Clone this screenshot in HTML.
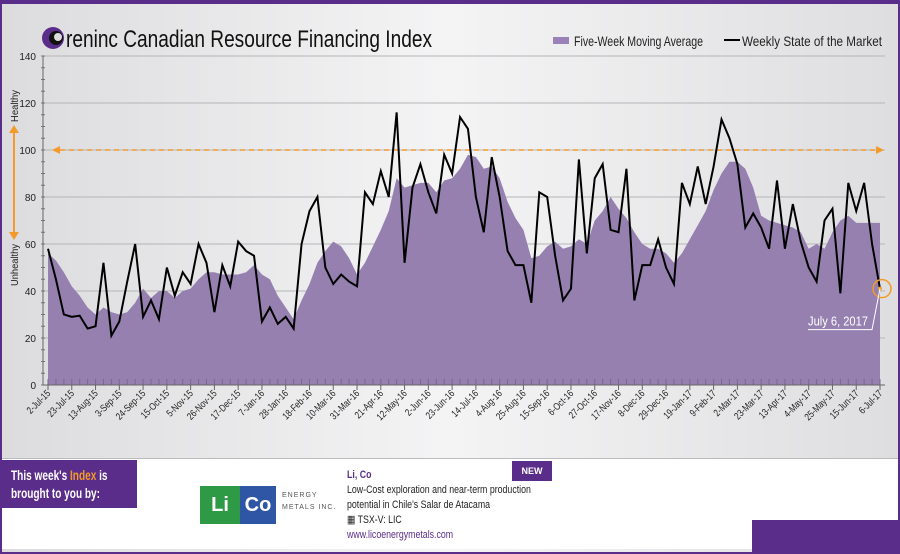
<!DOCTYPE html>
<html><head><meta charset="utf-8">
<style>
html,body{margin:0;padding:0}
body{width:900px;height:552px;overflow:hidden;font-family:"Liberation Sans",sans-serif;position:relative;background:#fff}
#frame{position:absolute;left:0;top:0;width:896px;height:548px;border:2px solid #5b2d8a;border-top-width:4px;background:linear-gradient(90deg,#dcdcde 0%,#f4f4f5 50%,#dedee0 100%)}
#footer{position:absolute;left:2px;top:458px;width:896px;height:90px;background:#fff;border-top:1px solid #bbb}
.t{position:absolute;white-space:nowrap}
.c{transform-origin:0 0}
</style></head><body>
<div id="frame"></div>
<div id="footer"></div>
<svg id="chart" width="900" height="458" style="position:absolute;left:0;top:0">
  <g>
    <circle cx="53" cy="38" r="11" fill="#5b2d8a"/>
    <circle cx="56" cy="38" r="7" fill="#111"/>
    <circle cx="58" cy="37" r="4" fill="#ddd"/>
    <text x="66" y="47" font-size="24" textLength="366" lengthAdjust="spacingAndGlyphs" fill="#111">reninc Canadian Resource Financing Index</text>
  </g>
  <g>
    <rect x="553" y="37" width="16" height="7" fill="#9a82b8"/>
    <text x="574" y="46" font-size="14" textLength="129" lengthAdjust="spacingAndGlyphs" fill="#222">Five-Week Moving Average</text>
    <line x1="724" y1="40" x2="740" y2="40" stroke="#000" stroke-width="2"/>
    <text x="742" y="46" font-size="14" textLength="140" lengthAdjust="spacingAndGlyphs" fill="#222">Weekly State of the Market</text>
  </g>
  <g id="grid"></g>
  <g id="area"></g>
  <g id="ref"></g>
  <g id="line"></g>
  <g id="axes"></g>
  <g>
    <text transform="translate(18,122) rotate(-90)" font-size="10" textLength="32" lengthAdjust="spacingAndGlyphs" fill="#222">Healthy</text>
    <text transform="translate(18,286) rotate(-90)" font-size="10" textLength="42" lengthAdjust="spacingAndGlyphs" fill="#222">Unhealthy</text>
    <line x1="14" y1="130" x2="14" y2="235" stroke="#f39a2b" stroke-width="2"/>
    <polygon points="9,133 19,133 14,125" fill="#f39a2b"/>
    <polygon points="9,232 19,232 14,240" fill="#f39a2b"/>
  </g>
  <g id="callout"></g>
</svg>
<div class="t" style="left:0;top:460px;width:137px;height:48px;background:#5b2d8a"></div>
<div class="t c" style="left:11px;top:466px;transform:scaleX(0.72);color:#fff;font-size:14px;font-weight:bold;line-height:18px">This week's <span style="color:#f39a2b">Index</span> is<br>brought to you by:</div>
<div class="t" style="left:512px;top:461px;width:40px;height:20px;background:#5b2d8a;color:#fff;font-size:9px;text-align:center;line-height:20px;font-weight:bold">NEW</div>
<div class="t" style="left:752px;top:520px;width:148px;height:32px;background:#5b2d8a"></div>
<div class="t" style="left:200px;top:486px;width:40px;height:38px;background:#2f9a46;color:#fff;font-weight:bold;font-size:20px;line-height:38px;text-align:center">Li</div>
<div class="t" style="left:240px;top:486px;width:36px;height:38px;background:#2e56a5;color:#fff;font-weight:bold;font-size:20px;line-height:38px;text-align:center">Co</div>
<div class="t" style="left:282px;top:490px;font-size:7px;letter-spacing:1px;color:#555;line-height:12px">ENERGY<br>METALS INC.</div>
<div class="t c" style="left:347px;top:468px;transform:scaleX(0.8);font-size:11px;line-height:15px;color:#222">
<span style="color:#5b2d8a;font-weight:bold">Li, Co</span><br>Low-Cost exploration and near-term production<br>potential in Chile's Salar de Atacama<br>▦ TSX-V: LIC<br><span style="color:#5b2d8a">www.licoenergymetals.com</span></div>
<script>
const weeklyValues=[58,45,30,29,29.5,24,25,52,21,27,44,60,29,36,28,50,38,48,43,60,52,31,51,42,61,57,55,27,33,26,29,24,60,74,80,50,43,47,44,42,82,77,91,80,116,52,84,94,82,73,98,90,114,109,80,65,97,80,57,51,51,35,82,80,55,36,41,96,56,88,94,66,65,92,36,51,51,62,50,43,86,77,93,77,93,113,105,94,67,73,67,58,87,58,77,61,50,44,70,75,39,86,74,86,60,41];
const averageValues=[56,53,48,42,38,33,30,33,31,30,31,35,41,37,40,40,37,40,41,45,48,48,47,47,47,48,51,47,45,38,33,28,36,43,52,57,61,59,54,47,52,59,66,74,88,84,85,86,86,82,87,88,92,98,97,92,93,88,78,71,66,54,55,59,61,58,59,62,60,70,74,80,75,71,65,60,58,58,56,52,56,62,68,74,83,90,95,95,92,84,72,70,69,68,67,65,58,60,58,65,70,72,69,69,69,69];
const dateLabels=["2-Jul-15","23-Jul-15","13-Aug-15","3-Sep-15","24-Sep-15","15-Oct-15","5-Nov-15","26-Nov-15","17-Dec-15","7-Jan-16","28-Jan-16","18-Feb-16","10-Mar-16","31-Mar-16","21-Apr-16","12-May-16","2-Jun-16","23-Jun-16","14-Jul-16","4-Aug-16","25-Aug-16","15-Sep-16","6-Oct-16","27-Oct-16","17-Nov-16","8-Dec-16","29-Dec-16","19-Jan-17","9-Feb-17","2-Mar-17","23-Mar-17","13-Apr-17","4-May-17","25-May-17","15-Jun-17","6-Jul-17"];
const yTicks=[0,20,40,60,80,100,120,140];
const referenceLevel=[100];
const NS="http://www.w3.org/2000/svg";
const X0=48,X1=880,Y0=385,Y140=56;
const n=weeklyValues.length;
function xs(i){return X0+(X1-X0)*i/(n-1);}
function ys(v){return Y0-(Y0-Y140)*v/140;}
function mk(tag,attrs,parent){const e=document.createElementNS(NS,tag);for(const k in attrs)e.setAttribute(k,attrs[k]);document.getElementById(parent).appendChild(e);return e;}
yTicks.forEach(v=>{
  const g=mk('line',{x1:43,x2:885,y1:ys(v),y2:ys(v),stroke:'#b5b5b8','stroke-width':1},'grid');
  
  
  const t=mk('text',{x:36,y:ys(v)+4,'font-size':10,'text-anchor':'end',fill:'#222'},'axes');
  t.textContent=v;
  
  
});
for(let v=0;v<=140;v+=5){mk('line',{x1:41,x2:45,y1:ys(v),y2:ys(v),stroke:'#777'},'axes');}
mk('line',{x1:43,x2:43,y1:ys(140),y2:Y0,stroke:'#666'},'axes');
mk('line',{x1:43,x2:885,y1:Y0,y2:Y0,stroke:'#666'},'axes');
let d='M'+xs(0)+','+Y0;
averageValues.forEach((v,i)=>{d+=' L'+xs(i)+','+ys(v);});
d+=' L'+xs(averageValues.length-1)+','+Y0+' Z';
const ar=mk('path',{d:d,fill:'#9580b0'},'area');


for(let i=0;i<n;i++){mk('line',{x1:xs(i),x2:xs(i),y1:Y0-6,y2:Y0,stroke:'#7a6796'},'area');}
const rl=referenceLevel[0];
const rf=mk('line',{x1:60,x2:876,y1:ys(rl),y2:ys(rl),stroke:'#f39a2b','stroke-width':1.5,'stroke-dasharray':'5,4'},'ref');


mk('polygon',{points:`52,${ys(rl)} 60,${ys(rl)-4} 60,${ys(rl)+4}`,fill:'#f39a2b'},'ref');
mk('polygon',{points:`884,${ys(rl)} 876,${ys(rl)-4} 876,${ys(rl)+4}`,fill:'#f39a2b'},'ref');
const pts=weeklyValues.map((v,i)=>xs(i)+','+ys(v)).join(' ');
const wl=mk('polyline',{points:pts,fill:'none',stroke:'#000','stroke-width':2,'stroke-linejoin':'miter'},'line');


dateLabels.forEach((s,k)=>{
  const x=xs(k*3);
  mk('line',{x1:x,x2:x,y1:Y0,y2:Y0+5,stroke:'#666'},'axes');
  const t=mk('text',{transform:`translate(${x+3},${Y0+9}) rotate(-45) scale(0.8,1)`,'font-size':10,'text-anchor':'end',fill:'#222'},'axes');
  t.textContent=s;
  
  
});
const lx=xs(n-1),ly=ys(weeklyValues[n-1]);
mk('circle',{cx:lx+2,cy:ly,r:9,fill:'none',stroke:'#f39a2b','stroke-width':1.5},'callout');
mk('circle',{cx:lx,cy:ly,r:2,fill:'#f39a2b'},'callout');
mk('polyline',{points:`${lx},${ly} ${lx-8},${ly+41} 808,${ly+41}`,fill:'none',stroke:'#fff','stroke-width':1},'callout');
const ct=mk('text',{x:808,y:ly+37,'font-size':13,textLength:60,lengthAdjust:'spacingAndGlyphs',fill:'#fff'},'callout');
ct.textContent='July 6, 2017';
</script>
</body></html>
